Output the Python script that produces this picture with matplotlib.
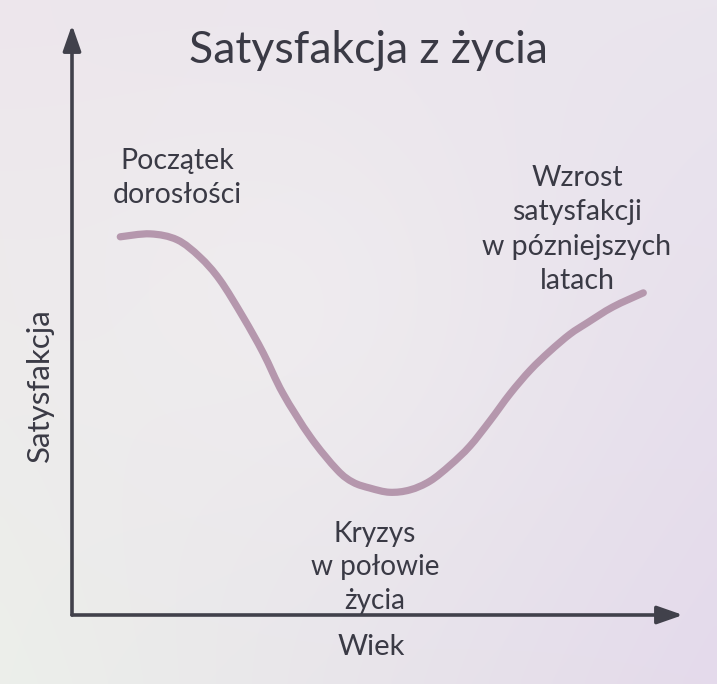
import numpy as np
import matplotlib.pyplot as plt
import matplotlib as mpl
from matplotlib.path import Path
from matplotlib.patches import PathPatch

mpl.rcParams.update({
    "font.family": ["Lato", "DejaVu Sans"],
    "text.color": "#3a3a45",
})

# curve (age 0-100, satisfaction 0-100)
age = [7.9, 12.8, 17.2, 20.9, 24.2, 28.0, 31.3, 34.5, 39.0, 43.4, 46.0, 48.8, 52.0,
       55.3, 58.6, 61.9, 65.1, 68.4, 71.7, 75.0, 78.2, 81.5, 84.3, 88.5, 93.5]
satisfaction = [64.1, 64.6, 63.6, 60.7, 56.8, 50.5, 44.4, 37.6, 30.2, 24.6, 22.5, 21.5, 20.8,
                21.2, 22.7, 25.4, 28.6, 32.9, 37.5, 41.5, 44.7, 47.6, 49.5, 52.2, 54.6]

title = "Satysfakcja z życia"
xlabel = "Wiek"
ylabel = "Satysfakcja"
note_start = ["Początek", "dorosłości"]
note_crisis = ["Kryzys", "w połowie", "życia"]
note_late = ["Wzrost", "satysfakcji", "w pózniejszych", "latach"]

W, H = 717, 684
fig = plt.figure(figsize=(W / 100, H / 100), dpi=100)

# soft gradient background
bg = fig.add_axes([0, 0, 1, 1], zorder=-10)
corners = np.array([
    [[237, 230, 236], [234, 229, 238]],   # top-left, top-right
    [[236, 239, 234], [228, 218, 235]],   # bottom-left, bottom-right
]) / 255.0
ty = np.linspace(0, 1, 120)[:, None, None]
tx = np.linspace(0, 1, 120)[None, :, None]
top = corners[0, 0] * (1 - tx) + corners[0, 1] * tx
bot = corners[1, 0] * (1 - tx) + corners[1, 1] * tx
img = top * (1 - ty) + bot * ty
mid = np.exp(-((tx - 0.4) ** 2 + (ty - 0.45) ** 2) / 0.12)
img = img * (1 - 0.55 * mid) + np.array([0.948, 0.94, 0.943]) * 0.55 * mid
bg.imshow(img, aspect="auto", extent=[0, 1, 0, 1], interpolation="bicubic")
bg.axis("off")

# main axes: origin at the corner of the arrows
x0, y0, x1, y1 = 72, 615, 683, 25
ax = fig.add_axes([x0 / W, 1 - y0 / H, (x1 - x0) / W, (y0 - y1) / H])
ax.set_xlim(0, 100)
ax.set_ylim(0, 100)
ax.patch.set_alpha(0)
for s in ax.spines.values():
    s.set_visible(False)
ax.set_xticks([])
ax.set_yticks([])

axis_col = "#41414b"
arrow = dict(arrowstyle="-|>,head_length=1.2,head_width=0.42", color=axis_col,
             lw=2.6, shrinkA=0, shrinkB=0, mutation_scale=13)
ax.annotate("", xy=(1, 0), xytext=(0, 0), xycoords="axes fraction", arrowprops=arrow)
ax.annotate("", xy=(0, 1), xytext=(0, 0), xycoords="axes fraction", arrowprops=arrow)

# smooth curve through the read points (Catmull-Rom as cubic Bezier segments)
pts = np.column_stack([age, satisfaction])
verts = [pts[0]]
codes = [Path.MOVETO]
for i in range(len(pts) - 1):
    p0 = pts[max(i - 1, 0)]
    p1 = pts[i]
    p2 = pts[i + 1]
    p3 = pts[min(i + 2, len(pts) - 1)]
    verts += [p1 + (p2 - p0) / 6, p2 - (p3 - p1) / 6, p2]
    codes += [Path.CURVE4] * 3
ax.add_patch(PathPatch(Path(verts, codes), facecolor="none", edgecolor="#b597ad",
                       lw=5.2, capstyle="round", joinstyle="round", zorder=3))


def put_lines(lines, cx, first_base, step=34.0, size=20.5):
    for i, line in enumerate(lines):
        fig.text(cx / W, 1 - (first_base + i * step) / H, line, ha="center",
                 va="baseline", fontsize=size)


fig.text(368 / W, 1 - 63 / H, title, ha="center", va="baseline", fontsize=32)
put_lines(note_start, 177, 169)
put_lines(note_late, 577, 186, step=34.3)
put_lines(note_crisis, 375, 542, step=33.5, size=20.2)
fig.text(371 / W, 1 - 655 / H, xlabel, ha="center", va="baseline", fontsize=21)
fig.text(40 / W, 1 - 385 / H, ylabel, ha="center", va="center", rotation=90,
         fontsize=22.5)

fig.savefig("out.png", dpi=100)
